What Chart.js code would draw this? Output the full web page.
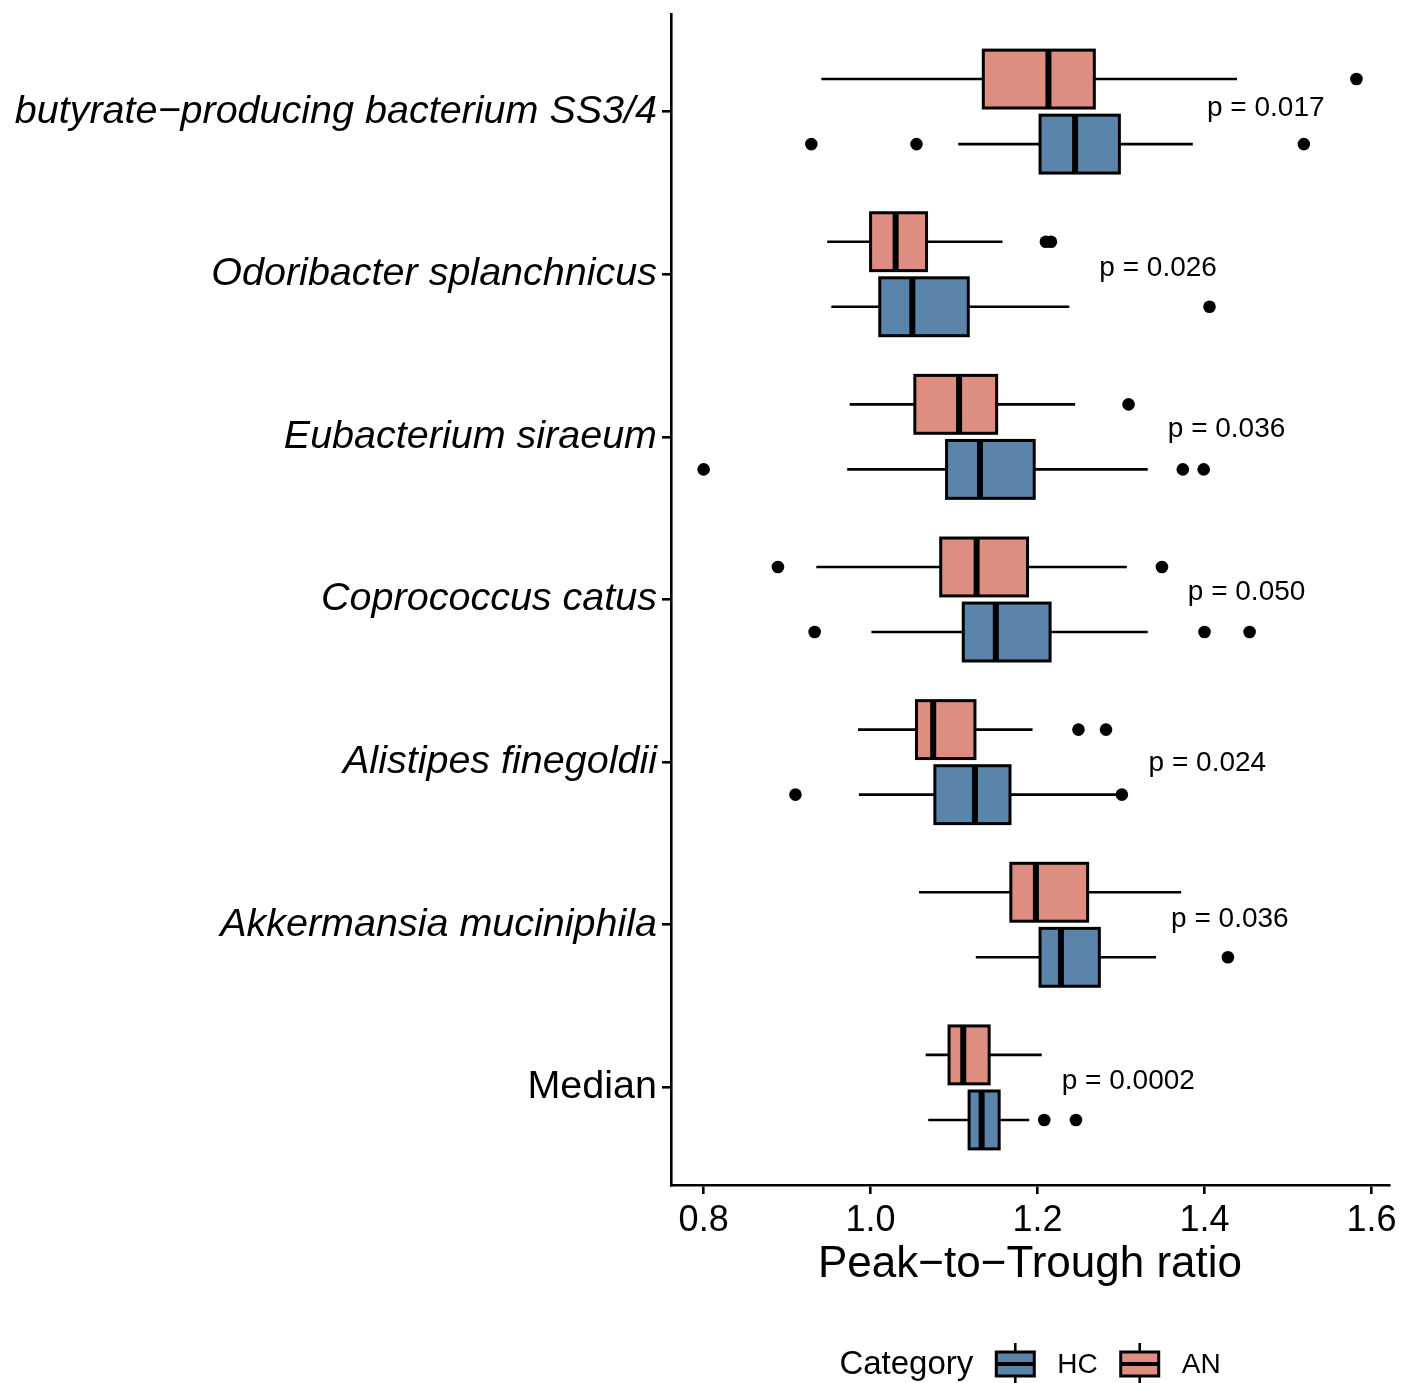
<!DOCTYPE html>
<html>
<head>
<meta charset="utf-8">
<script src="https://cdn.jsdelivr.net/npm/chart.js@4.4.0/dist/chart.umd.min.js"></script>
<style>
  html, body { margin: 0; padding: 0; background: #fff; }
  #wrap { width: 1402px; height: 1383px; }
</style>
</head>
<body>
<div id="wrap"><canvas id="myChart" width="1402" height="1383"></canvas></div>
<script>
/*** Datos (de arriba hacia abajo) */
var taxa = [
    "butyrate\u2212producing bacterium SS3/4",
    "Odoribacter splanchnicus",
    "Eubacterium siraeum",
    "Coprococcus catus",
    "Alistipes finegoldii",
    "Akkermansia muciniphila",
    "Median"
];
var xTicks = [0.8, 1.0, 1.2, 1.4, 1.6];

// [bigote inferior, Q1, mediana, Q3, bigote superior]
var anStats = [
    [0.941, 1.135, 1.213, 1.268, 1.439],
    [0.948, 1.000, 1.030, 1.067, 1.158],
    [0.975, 1.053, 1.106, 1.151, 1.245],
    [0.935, 1.084, 1.127, 1.188, 1.307],
    [0.985, 1.055, 1.075, 1.125, 1.194],
    [1.058, 1.168, 1.198, 1.260, 1.372],
    [1.066, 1.094, 1.111, 1.142, 1.205]
];
var hcStats = [
    [1.105, 1.203, 1.245, 1.298, 1.386],
    [0.953, 1.011, 1.050, 1.117, 1.238],
    [0.972, 1.091, 1.131, 1.196, 1.332],
    [1.001, 1.111, 1.150, 1.215, 1.332],
    [0.986, 1.077, 1.125, 1.167, 1.301],
    [1.126, 1.203, 1.228, 1.274, 1.342],
    [1.069, 1.118, 1.133, 1.154, 1.190]
];
var anOutliers = [[1.582], [1.210, 1.216], [1.309], [0.889, 1.349], [1.249, 1.282], [], []];
var hcOutliers = [[0.929, 1.055, 1.519], [1.406], [0.800, 1.374, 1.399], [0.933, 1.400, 1.454], [0.910, 1.301], [1.428], [1.208, 1.246]];

var pLabels = ["p = 0.017", "p = 0.026", "p = 0.036", "p = 0.050", "p = 0.024", "p = 0.036", "p = 0.0002"];
var pX = [1.403, 1.274, 1.356, 1.380, 1.333, 1.360, 1.229];
var pDy = [-0.02, -0.037, -0.047, -0.047, 0.01, -0.033, -0.039];

/*** Estilo */
var FONT = "'Liberation Sans', Arial, Helvetica, sans-serif";
var colAN = '#DE8D81';
var colHC = '#5B84AA';
var dodge = 0.2;      // desplazamiento de cada caja respecto a la categoría
var boxHalf = 0.178;  // media altura de caja en unidades de categoría

var groups = [
    { name: 'HC', stats: hcStats, outliers: hcOutliers, color: colHC, offset: dodge },
    { name: 'AN', stats: anStats, outliers: anOutliers, color: colAN, offset: -dodge }
];

function outlierPoints(g) {
    var pts = [];
    g.outliers.forEach(function(vals, i) {
        vals.forEach(function(v) { pts.push({ x: v, y: i + g.offset }); });
    });
    return pts;
}

// Dibuja cajas, bigotes y medianas con las escalas del gráfico
var boxPlugin = {
    id: 'boxes',
    beforeDatasetsDraw: function(chart) {
        var ctx = chart.ctx, xs = chart.scales.x, ys = chart.scales.y;
        ctx.save();
        groups.forEach(function(g) {
            g.stats.forEach(function(s, i) {
                var yc = ys.getPixelForValue(i + g.offset);
                var y0 = ys.getPixelForValue(i + g.offset - boxHalf);
                var y1 = ys.getPixelForValue(i + g.offset + boxHalf);
                var px = s.map(function(v) { return xs.getPixelForValue(v); });
                ctx.strokeStyle = '#000';
                ctx.lineWidth = 2.6;
                ctx.beginPath();
                ctx.moveTo(px[0], yc); ctx.lineTo(px[1], yc);
                ctx.moveTo(px[3], yc); ctx.lineTo(px[4], yc);
                ctx.stroke();
                ctx.fillStyle = g.color;
                ctx.fillRect(px[1], y0, px[3] - px[1], y1 - y0);
                ctx.lineWidth = 3;
                ctx.strokeRect(px[1], y0, px[3] - px[1], y1 - y0);
                ctx.lineWidth = 6;
                ctx.beginPath();
                ctx.moveTo(px[2], y0); ctx.lineTo(px[2], y1);
                ctx.stroke();
            });
        });
        ctx.restore();
    },
    afterDatasetsDraw: function(chart) {
        var ctx = chart.ctx, xs = chart.scales.x, ys = chart.scales.y;
        ctx.save();
        ctx.fillStyle = '#000';
        ctx.font = "28px " + FONT;
        ctx.textAlign = 'left';
        ctx.textBaseline = 'middle';
        pLabels.forEach(function(t, i) {
            ctx.fillText(t, xs.getPixelForValue(pX[i]), ys.getPixelForValue(i + pDy[i]));
        });
        ctx.restore();
    },
    afterDraw: function(chart) {
        // Leyenda estilo ggplot abajo
        var ctx = chart.ctx, ca = chart.chartArea;
        var yc = 1364;
        ctx.save();
        ctx.fillStyle = '#000';
        ctx.textBaseline = 'middle';
        ctx.textAlign = 'left';
        ctx.font = "33px " + FONT;
        var wTitle = ctx.measureText('Category').width;
        ctx.font = "28px " + FONT;
        var wHC = ctx.measureText('HC').width, wAN = ctx.measureText('AN').width;
        var iconW = 38, gap = 23;
        var total = wTitle + gap + iconW + gap + wHC + gap + iconW + gap + wAN;
        var x = (ca.left + ca.right) / 2 - total / 2;
        ctx.font = "33px " + FONT;
        ctx.fillText('Category', x, yc + 1);
        x += wTitle + gap;
        groups.forEach(function(g) {
            var w = g.name === 'HC' ? wHC : wAN;
            ctx.strokeStyle = '#000';
            ctx.lineWidth = 2.6;
            ctx.beginPath();
            ctx.moveTo(x + iconW / 2, yc - 21); ctx.lineTo(x + iconW / 2, yc + 21);
            ctx.stroke();
            ctx.fillStyle = g.color;
            ctx.fillRect(x, yc - 12, iconW, 24);
            ctx.lineWidth = 3;
            ctx.strokeRect(x, yc - 12, iconW, 24);
            ctx.lineWidth = 4;
            ctx.beginPath();
            ctx.moveTo(x, yc); ctx.lineTo(x + iconW, yc);
            ctx.stroke();
            x += iconW + gap;
            ctx.fillStyle = '#000';
            ctx.font = "28px " + FONT;
            ctx.fillText(g.name, x, yc + 1);
            x += w + gap;
        });
        ctx.restore();
    }
};

var ctx = document.getElementById('myChart').getContext('2d');
var myChart = new Chart(ctx, {
    type: 'scatter',
    data: {
        datasets: groups.map(function(g) {
            return {
                label: g.name,
                data: outlierPoints(g),
                backgroundColor: '#000',
                borderColor: '#000',
                borderWidth: 0,
                pointRadius: 6.3,
                pointHoverRadius: 6.3
            };
        })
    },
    options: {
        responsive: false,
        devicePixelRatio: 1,
        animation: false,
        events: [],
        layout: { padding: { top: 14, right: 13, left: 0, bottom: 0 } },
        plugins: { legend: { display: false }, tooltip: { enabled: false } },
        scales: {
            x: {
                type: 'linear',
                position: 'bottom',
                min: 0.7609,
                max: 1.621,
                afterBuildTicks: function(s) { s.ticks = xTicks.map(function(v) { return { value: v }; }); },
                afterFit: function(s) { s.height = 198; s.paddingLeft = 0; s.paddingRight = 0; },
                ticks: {
                    color: '#000',
                    font: { family: FONT, size: 36 },
                    padding: 5,
                    maxRotation: 0,
                    callback: function(v) { return Number(v).toFixed(1); }
                },
                grid: { drawOnChartArea: false, color: '#000', lineWidth: 2.6, tickLength: 9 },
                border: { display: true, color: '#000', width: 2.6 },
                title: {
                    display: true,
                    text: 'Peak\u2212to\u2212Trough ratio',
                    color: '#000',
                    font: { family: FONT, size: 44 },
                    padding: { top: 0, bottom: 92 }
                }
            },
            y: {
                type: 'linear',
                position: 'left',
                reverse: true,
                min: -0.6,
                max: 6.6,
                afterBuildTicks: function(s) { s.ticks = taxa.map(function(t, i) { return { value: i }; }); },
                afterFit: function(s) { s.width = 671; s.paddingTop = 0; s.paddingBottom = 0; },
                ticks: {
                    color: '#000',
                    padding: 5,
                    font: function(c) {
                        var isMedian = c.tick && taxa[c.tick.value] === 'Median';
                        return { family: FONT, size: 39.5, style: isMedian ? 'normal' : 'italic' };
                    },
                    callback: function(v) { return taxa[v]; }
                },
                grid: { drawOnChartArea: false, color: '#000', lineWidth: 2.6, tickLength: 9 },
                border: { display: true, color: '#000', width: 2.6 }
            }
        }
    },
    plugins: [boxPlugin]
});
</script>
</body>
</html>
